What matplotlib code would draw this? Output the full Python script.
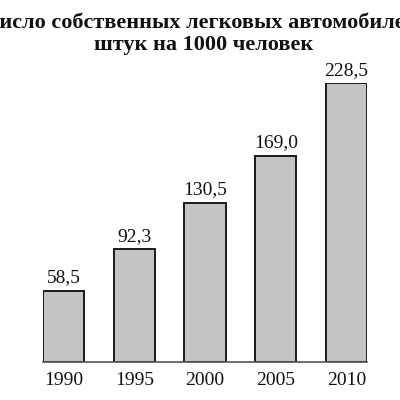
import matplotlib.pyplot as plt
import numpy as np

years = ["1990", "1995", "2000", "2005", "2010"]
cars = [58.5, 92.3, 130.5, 169.0, 228.5]
title_1 = "Число собственных легковых автомобилей,"
title_2 = "штук на 1000 человек"

plt.rcParams['font.family'] = ['Liberation Serif', 'DejaVu Serif']

fig = plt.figure(figsize=(4, 4), dpi=100)
ax = fig.add_axes([43 / 400, 38 / 400, 324 / 400, 279 / 400])

x = np.arange(len(years))
bars = ax.bar(x, cars, width=0.58, color='#c4c4c4', edgecolor='#1a1a1a', linewidth=1.4)

for b, v in zip(bars, cars):
    ax.annotate("{:.1f}".format(v).replace('.', ','),
                (b.get_x() + b.get_width() / 2, v),
                xytext=(0, 3), textcoords='offset points',
                ha='center', va='bottom', fontsize=14, color='#111111')

ax.set_xlim(-0.29, len(years) - 1 + 0.29)
ax.set_ylim(0, 228.5)
ax.set_xticks(x)
ax.set_xticklabels(years, fontsize=14, color='#111111')
ax.tick_params(axis='x', length=0, pad=7)
ax.set_yticks([])
for s in ['top', 'left', 'right']:
    ax.spines[s].set_visible(False)
ax.spines['bottom'].set_color('#555555')
ax.spines['bottom'].set_linewidth(1.2)

fig.text(0.508, 0.943, title_1, ha='center', va='center', fontsize=16,
         fontweight='bold', color='#111111')
fig.text(0.508, 0.888, title_2, ha='center', va='center', fontsize=16,
         fontweight='bold', color='#111111')

fig.savefig("out.png", dpi=100)
